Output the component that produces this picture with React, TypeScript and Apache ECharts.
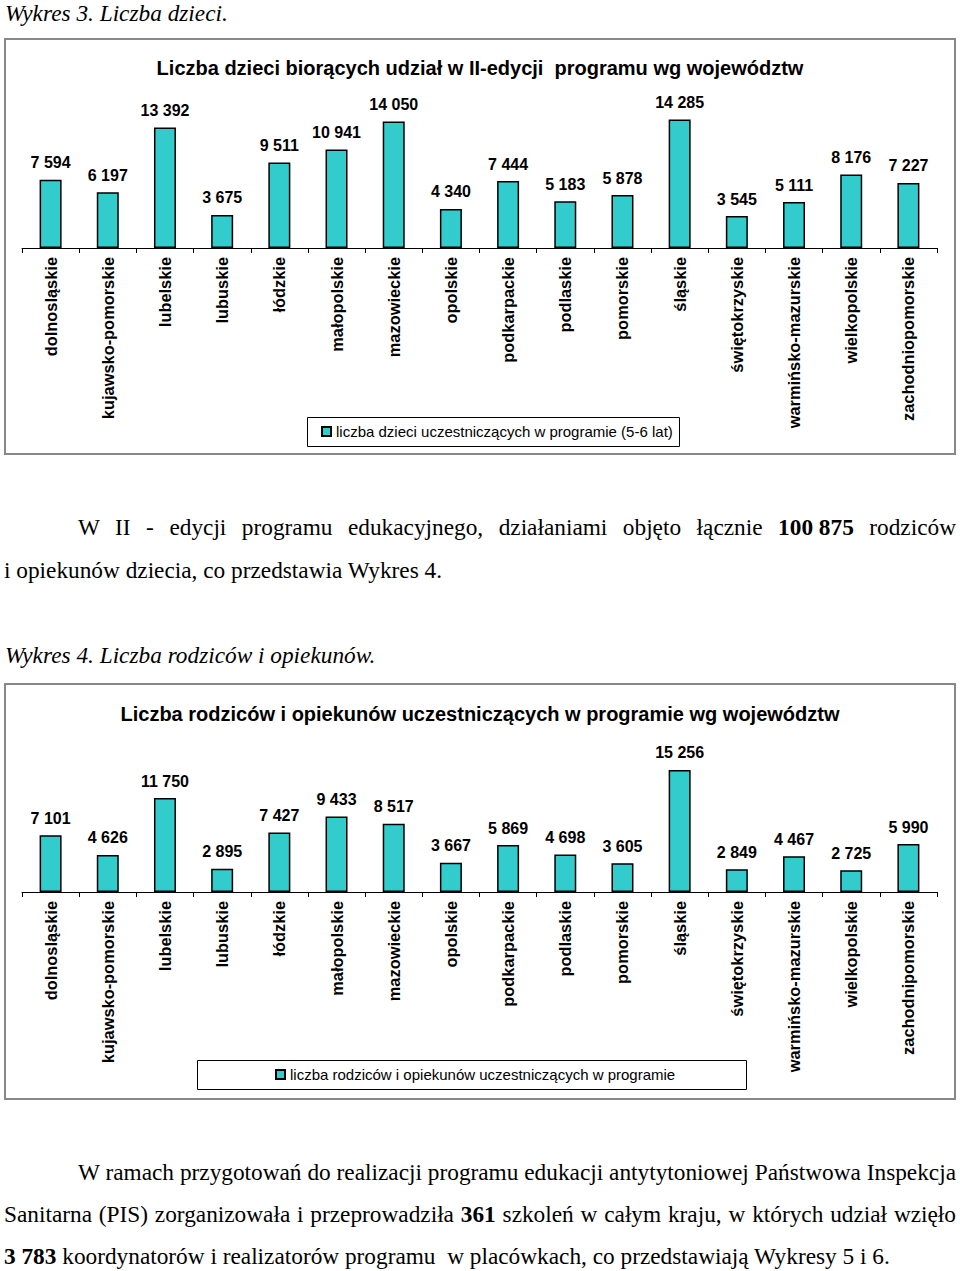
import React, { useEffect, useRef } from "react";
import * as echarts from "echarts";

const regions1 = [
  "dolnosląskie", "kujawsko-pomorskie", "lubelskie", "lubuskie", "łódzkie",
  "małopolskie", "mazowieckie", "opolskie", "podkarpackie", "podlaskie",
  "pomorskie", "śląskie", "świętokrzyskie", "warmińsko-mazurskie",
  "wielkopolskie", "zachodniopomorskie",
];
const children = [7594, 6197, 13392, 3675, 9511, 10941, 14050, 4340, 7444, 5183, 5878, 14285, 3545, 5111, 8176, 7227];

const regions2 = [
  "dolnosląskie", "kujawsko-pomorskie", "lubelskie", "lubuskie", "łódzkie",
  "małopolskie", "mazowieckie", "opolskie", "podkarpackie", "podlaskie",
  "pomorskie", "śląskie", "świętokrzyskie", "warmińsko-mazurskie",
  "wielkopolskie", "zachodnipomorskie",
];
const parents = [7101, 4626, 11750, 2895, 7427, 9433, 8517, 3667, 5869, 4698, 3605, 15256, 2849, 4467, 2725, 5990];

const title1 = "Liczba dzieci biorących udział w II-edycji  programu wg województw";
const title2 = "Liczba rodziców i opiekunów uczestniczących w programie wg województw";
const legend1 = "liczba dzieci uczestniczących w programie (5-6 lat)";
const legend2 = "liczba rodziców i opiekunów uczestniczących w programie";

const SANS = "Arial, 'Liberation Sans', sans-serif";
const SERIF = "'Liberation Serif', 'Times New Roman', serif";
const BAR = "#33CCCC";

const fmt = (v: number) => String(v).replace(/\B(?=(\d{3})+(?!\d))/g, " ");

type Cfg = {
  title: string;
  titleTop: number;
  categories: string[];
  values: number[];
  max: number;
  gridTop: number;
  gridBottom: number;
  legendName: string;
  legendLeft: number;
  legendTop: number;
  box: [number, number, number, number];
};

function makeOption(c: Cfg): any {
  return {
    animation: false,
    backgroundColor: "#ffffff",
    title: {
      text: c.title,
      left: "center",
      top: c.titleTop,
      padding: 0,
      textStyle: { fontFamily: SANS, fontSize: 20, fontWeight: "bold", color: "#000" },
    },
    grid: { left: 18, right: 19, top: c.gridTop, bottom: c.gridBottom, containLabel: false },
    xAxis: {
      type: "category",
      data: c.categories,
      axisLine: { show: true, lineStyle: { color: "#000", width: 1 } },
      axisTick: { show: true, length: 5, lineStyle: { color: "#000", width: 1 } },
      axisLabel: {
        rotate: 90,
        margin: 9,
        interval: 0,
        fontFamily: SANS,
        fontSize: 16.4,
        fontWeight: "bold",
        color: "#000",
      },
    },
    yAxis: { type: "value", min: 0, max: c.max, show: false, splitLine: { show: false } },
    legend: {
      left: c.legendLeft,
      top: c.legendTop,
      padding: 0,
      itemWidth: 9,
      itemHeight: 9,
      icon: "rect",
      textStyle: { fontFamily: SANS, fontSize: 15, color: "#000" },
      data: [c.legendName],
    },
    graphic: [
      {
        type: "rect",
        z: 0,
        shape: { x: c.box[0], y: c.box[1], width: c.box[2], height: c.box[3] },
        style: { fill: "#fff", stroke: "#000", lineWidth: 1 },
      },
    ],
    series: [
      {
        name: c.legendName,
        type: "bar",
        data: c.values,
        barWidth: 22,
        itemStyle: { color: BAR, borderColor: "#000", borderWidth: 1.5 },
        label: {
          show: true,
          position: "top",
          distance: 9,
          formatter: (p: any) => fmt(p.value),
          fontFamily: SANS,
          fontSize: 16,
          fontWeight: "bold",
          color: "#000",
        },
      },
    ],
  };
}

function Chart({ cfg, left, top }: { cfg: Cfg; left: number; top: number }) {
  const ref = useRef<HTMLDivElement>(null);
  useEffect(() => {
    if (!ref.current) return;
    const chart = echarts.init(ref.current, undefined, { renderer: "svg" });
    chart.setOption(makeOption(cfg));
    return () => chart.dispose();
  }, []);
  return (
    <>
      <div ref={ref} style={{ position: "absolute", left, top, width: 952, height: 417 }} />
      <div
        style={{
          position: "absolute",
          left,
          top,
          width: 952,
          height: 417,
          boxSizing: "border-box",
          border: "2px solid #888",
          pointerEvents: "none",
        }}
      />
    </>
  );
}

const FS = 23.3;

const textBase: React.CSSProperties = {
  position: "absolute",
  fontFamily: SERIF,
  fontSize: FS,
  lineHeight: "20px",
  color: "#000",
  whiteSpace: "nowrap",
};

function Line({ x, baseline, width, justify, italic, children }: any) {
  const style: React.CSSProperties = {
    ...textBase,
    left: x,
    top: baseline - 18,
    fontStyle: italic ? "italic" : "normal",
  };
  if (justify) {
    style.width = width;
    style.textAlign = "justify";
    (style as any).textAlignLast = "justify";
    style.whiteSpace = "normal";
  }
  return <div style={style}>{children}</div>;
}

const Num = ({ children }: any) => (
  <b style={{ display: "inline-block", whiteSpace: "nowrap" }}>{children}</b>
);

export default function App() {
  const cfg1: Cfg = {
    title: title1,
    titleTop: 20,
    categories: regions1,
    values: children,
    max: 16000,
    gridTop: 66,
    gridBottom: 207,
    legendName: legend1,
    legendLeft: 317,
    legendTop: 386,
    box: [303.5, 379.5, 372, 29],
  };
  const cfg2: Cfg = {
    title: title2,
    titleTop: 21,
    categories: regions2,
    values: parents,
    max: 18000,
    gridTop: 65,
    gridBottom: 208,
    legendName: legend2,
    legendLeft: 271,
    legendTop: 384,
    box: [193.5, 377.5, 549, 29],
  };
  return (
    <div
      style={{
        position: "absolute",
        left: 0,
        top: 0,
        width: 960,
        height: 1271,
        background: "#fff",
        overflow: "hidden",
      }}
    >
      <Line x={5} baseline={21} italic>Wykres 3. Liczba dzieci.</Line>
      <Chart cfg={cfg1} left={4} top={38} />
      <Line x={78} baseline={535} width={878} justify>
        W II - edycji programu edukacyjnego, działaniami objęto łącznie <Num>100 875</Num> rodziców
      </Line>
      <Line x={4} baseline={578}>i opiekunów dziecia, co przedstawia Wykres 4.</Line>
      <Line x={5} baseline={663} italic>Wykres 4. Liczba rodziców i opiekunów.</Line>
      <Chart cfg={cfg2} left={4} top={683} />
      <Line x={78} baseline={1180} width={878} justify>
        W ramach przygotowań do realizacji programu edukacji antytytoniowej Państwowa Inspekcja
      </Line>
      <Line x={4} baseline={1222} width={952} justify>
        Sanitarna (PIS) zorganizowała i przeprowadziła <b>361</b> szkoleń w całym kraju, w których udział wzięło
      </Line>
      <Line x={4} baseline={1264}>
        <b>3 783</b> koordynatorów i realizatorów programu&nbsp; w placówkach, co przedstawiają Wykresy 5 i 6.
      </Line>
    </div>
  );
}
